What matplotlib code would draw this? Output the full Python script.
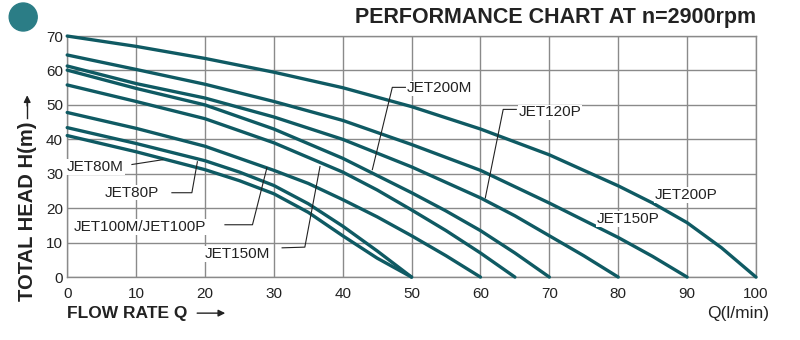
import matplotlib.pyplot as plt
from matplotlib.patches import Ellipse

plt.rcParams['font.family'] = ['Liberation Sans', 'DejaVu Sans']

# pump curves: flow Q (l/min) -> head H (m)
q_200p = [0, 10, 20, 30, 40, 50, 60, 70, 80, 85, 90, 95, 100]
h_200p = [70, 67, 63.5, 59.5, 55, 49.5, 43, 35.5, 26.5, 21.5, 15.8, 8.5, 0]
q_150p = [0, 10, 20, 30, 40, 50, 60, 70, 75, 80, 85, 90]
h_150p = [64.5, 60.3, 56, 51, 45.5, 38.5, 31, 21.5, 16.5, 11.5, 6, 0]
q_120p = [0, 10, 20, 30, 40, 50, 60, 65, 70, 75, 80]
h_120p = [61.3, 56.2, 52, 46.5, 40, 32, 23, 17.8, 12, 6.2, 0]
q_200m = [0, 10, 20, 30, 40, 50, 55, 60, 65, 70]
h_200m = [60.1, 54.8, 50, 43, 34.5, 24.5, 19.2, 13.5, 7, 0]
q_150m = [0, 10, 20, 30, 40, 45, 50, 55, 60, 65]
h_150m = [55.8, 51, 46, 39, 30.5, 25.3, 19.5, 13.5, 7, 0]
q_100m = [0, 10, 20, 30, 35, 40, 45, 50, 55, 60]
h_100m = [47.8, 43.2, 38, 31, 27.2, 22.5, 17.5, 12, 6.2, 0]
q_80p = [0, 10, 20, 25, 30, 35, 40, 45, 50]
h_80p = [43.4, 38.8, 33.8, 30.5, 26.6, 21.3, 14.8, 7.6, 0]
q_80m = [0, 10, 20, 25, 30, 35, 40, 45, 50]
h_80m = [41.1, 36.4, 31.2, 28, 24.2, 18.8, 12, 5.5, 0]

curves = [(q_200p, h_200p), (q_150p, h_150p), (q_120p, h_120p), (q_200m, h_200m),
          (q_150m, h_150m), (q_100m, h_100m), (q_80p, h_80p), (q_80m, h_80m)]

# label text, text anchor (Q, H), leader line points
labels = [
    ('JET200M', (49.3, 54.8), [(49.1, 55.1), (47.2, 55.1), (44.3, 31.2)]),
    ('JET120P', (65.5, 47.8), [(65.2, 48.7), (63.3, 48.7), (60.7, 23)]),
    ('JET200P', (85.3, 23.9), []),
    ('JET150P', (76.9, 16.9), []),
    ('JET80M', (0, 32), [(9.4, 32.7), (13.9, 34.1)]),
    ('JET80P', (5.5, 24.5), [(15.2, 24.5), (18.1, 24.5), (18.9, 33.5)]),
    ('JET100M/JET100P', (0.9, 14.6), [(22.9, 15.2), (26.9, 15.2), (29.0, 31.8)]),
    ('JET150M', (20, 6.7), [(31.2, 8.5), (34.5, 8.7), (36.7, 32.1)]),
]

line_color = '#0f5a63'

fig = plt.figure(figsize=(8, 3.4), dpi=100)
ax = fig.add_axes([0.084, 0.185, 0.861, 0.709])

for q, h in curves:
    ax.plot(q, h, color=line_color, lw=2.4, solid_capstyle='round',
            solid_joinstyle='round', clip_on=False, zorder=3)

for text, (x, y), leader in labels:
    ax.text(x, y, text, fontsize=11, color='#222222', va='center', ha='left', zorder=4,
            bbox=dict(facecolor='white', edgecolor='none', pad=0.5))
    if leader:
        ax.plot([p[0] for p in leader], [p[1] for p in leader], color='#222222', lw=0.8, zorder=4)

ax.set_xlim(0, 100)
ax.set_ylim(0, 70)
ax.set_xticks(range(0, 101, 10))
ax.set_yticks(range(0, 71, 10))
ax.grid(True, color='#8a8a8a', lw=1)
ax.set_axisbelow(True)
ax.tick_params(length=0, labelsize=11, colors='#222222')
ax.tick_params(axis='x', pad=7)
ax.tick_params(axis='y', pad=3)
for s in ax.spines.values():
    s.set_color('#8a8a8a')
    s.set_linewidth(1)

fig.text(0.945, 0.948, 'PERFORMANCE CHART AT n=2900rpm', fontsize=15.5, fontweight='bold',
         ha='right', va='center', color='#222222')
fig.add_artist(Ellipse((0.029, 0.95), 28 / 800, 28 / 340, transform=fig.transFigure,
                       color='#2b7d86'))

fig.text(0.034, 0.38, 'TOTAL HEAD H(m)', rotation=90, fontsize=14.5, fontweight='bold',
         ha='center', va='center', color='#222222')
fig.add_artist(plt.Line2D([0.034, 0.034], [0.653, 0.71], transform=fig.transFigure,
                          color='#222222', lw=1))
ax.annotate('', xy=(0.034, 0.728), xytext=(0.034, 0.68), xycoords='figure fraction',
            arrowprops=dict(arrowstyle='-|>', color='#222222', lw=1, mutation_scale=10))

fig.text(0.084, 0.079, 'FLOW RATE Q', fontsize=12.5, fontweight='bold',
         ha='left', va='center', color='#222222')
ax.annotate('', xy=(0.285, 0.079), xytext=(0.243, 0.079), xycoords='figure fraction',
            arrowprops=dict(arrowstyle='-|>', color='#222222', lw=1, mutation_scale=10))
fig.text(0.962, 0.079, 'Q(l/min)', fontsize=12.5, ha='right', va='center', color='#222222')

fig.savefig('out.png', dpi=100)
